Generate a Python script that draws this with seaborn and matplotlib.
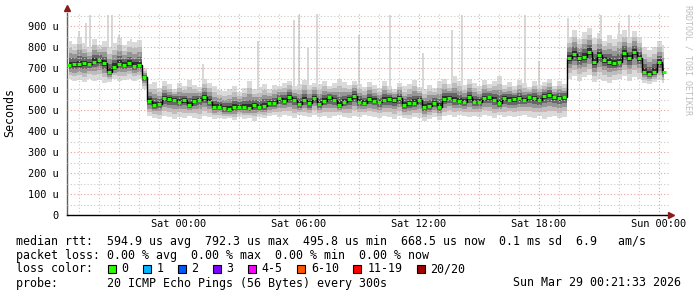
import numpy as np
import matplotlib
matplotlib.use("Agg")
import matplotlib.pyplot as plt
from matplotlib.patches import Rectangle
import seaborn as sns

# ---------------- data (hours relative to Sat 00:00, one sample per 15 min) -------------
t_start = -5.5
t_step = 0.25

median_us = [714, 717, 717, 722, 719, 730, 738, 722, 682, 706, 719, 714, 722, 711, 714,
             655,
             544, 524, 529, 555, 552, 550, 540, 548, 524, 544, 550, 560, 540, 516, 516,
             508, 505, 513, 516, 516, 508, 524, 513, 519, 532, 532, 556, 545, 560, 548,
             527, 548, 532, 556, 529, 545, 560, 548, 524, 540, 552, 567, 540, 535, 552,
             545, 540, 548, 551, 548, 556, 524, 532, 535, 548, 516, 519, 535, 516, 551,
             559, 548, 545, 540, 560, 540, 540, 556, 560, 548, 532, 556, 548, 551, 556,
             548, 560, 556, 548, 567, 571, 560, 556, 560,
             746, 767, 746, 754, 778, 730, 762, 738, 730, 722, 730, 770, 746, 778, 746,
             683, 671, 683, 727, 683]

smoke_hi_us = [830, 815, 850, 820, 800, 840, 810, 830, 800, 820, 845, 810, 830, 825, 835,
               700,
               625, 632, 605, 640, 622, 600, 630, 615, 642, 620, 608, 648, 628, 612, 595,
               590, 600, 615, 585, 605, 640, 598, 610, 625, 600, 620, 615, 630, 640, 612,
               625, 645, 618, 630, 622, 640, 615, 628, 650, 632, 618, 640, 625, 610, 635,
               620, 605, 640, 615, 600, 630, 612, 625, 645, 610, 598, 620, 605, 640, 650,
               625, 660, 640, 618, 650, 630, 612, 645, 625, 640, 660, 620, 635, 615, 645,
               628, 610, 640, 620, 635, 650, 615, 640, 625,
               850, 880, 840, 870, 890, 845, 865, 830, 855, 840, 860, 880, 850, 875, 850,
               800, 785, 800, 830, 810]

smoke_lo_us = [650, 640, 645, 635, 650, 640, 645, 630, 635, 650, 640, 645, 650, 640, 650,
               600,
               470, 462, 458, 470, 465, 455, 468, 460, 472, 462, 456, 470, 465, 458, 462,
               455, 460, 452, 465, 458, 462, 450, 468, 460, 470, 475, 465, 478, 470, 462,
               475, 470, 465, 478, 468, 472, 462, 470, 475, 465, 460, 472, 468, 475, 470,
               468, 462, 470, 465, 458, 472, 460, 455, 468, 462, 450, 458, 465, 452, 470,
               475, 468, 478, 470, 465, 472, 468, 475, 470, 462, 475, 468, 472, 465, 470,
               478, 468, 462, 470, 458, 465, 472, 460, 468,
               650, 660, 640, 655, 665, 635, 650, 640, 630, 645, 650, 660, 640, 655, 650,
               630, 625, 635, 645, 630]

spike_hours = [-5.0, -4.65, -4.45, -3.55, -3.35, -3.0, -2.4, -2.0, 1.2, 3.95, 5.75, 6.0,
               6.45, 6.9, 9.0, 10.55, 12.2, 13.65, 14.15, 17.3, 18.0, 19.45, 21.1, 22.0,
               22.5, 24.0]
spike_top_us = [876, 915, 954, 954, 954, 859, 840, 830, 719, 828, 930, 954,
                795, 955, 859, 954, 771, 882, 954, 954, 733, 940, 954, 915,
                954, 828]

xtick_hours = [0, 6, 12, 18, 24]
xtick_labels = ["Sat 00:00", "Sat 06:00", "Sat 12:00", "Sat 18:00", "Sun 00:00"]
ytick_values = [0, 100, 200, 300, 400, 500, 600, 700, 800, 900]
ytick_labels = ["0", "100 u", "200 u", "300 u", "400 u", "500 u", "600 u", "700 u",
                "800 u", "900 u"]

loss_labels = ["0", "1", "2", "3", "4-5", "6-10", "11-19", "20/20"]
loss_colors = ["#26ff00", "#00b8ff", "#0059ff", "#7e00ff", "#ff00ff", "#ff5500",
               "#ff0000", "#a10000"]

legend_row1 = "median rtt:  594.9 us avg  792.3 us max  495.8 us min  668.5 us now  0.1 ms sd  6.9   am/s"
legend_row2 = "packet loss: 0.00 % avg  0.00 % max  0.00 % min  0.00 % now"
legend_row3 = "loss color:"
legend_row4 = "probe:       20 ICMP Echo Pings (56 Bytes) every 300s"
legend_date = "Sun Mar 29 00:21:33 2026"

# ---------------- figure ----------------
sns.set_theme(style="white")
plt.rcParams["font.family"] = ["DejaVu Sans Mono", "DejaVu Sans"]

W, H = 697, 297
fig = plt.figure(figsize=(W / 100, H / 100), dpi=100)
fig.patch.set_facecolor("white")
ax = fig.add_axes([67 / W, (H - 215) / H, 603 / W, 202 / H])
ax.set_facecolor("white")

med = np.array(median_us, dtype=float)
hi = np.array(smoke_hi_us, dtype=float)
lo = np.array(smoke_lo_us, dtype=float)
t = t_start + t_step * np.arange(len(med))

# spikes (single-sample outliers)
sh = np.array(spike_hours)
base = np.interp(sh, t, med)
ax.bar(sh, np.array(spike_top_us) - base, bottom=base, width=0.14,
       color="#d8d8d8", linewidth=0, zorder=0.8)

# smoke layers from outer/light to inner/dark
fracs = [1.0, 0.72, 0.5, 0.3, 0.14]
greys = ["#dadada", "#bdbdbd", "#969696", "#666666", "#303030"]
for f, g in zip(fracs, greys):
    ax.fill_between(t, med - f * (med - lo), med + f * (hi - med), step="mid",
                    color=g, linewidth=0, zorder=1)

# median: black connector + green blocks
sns.lineplot(x=t, y=med, ax=ax, drawstyle="steps-mid", color="black", lw=1.0,
             zorder=3, legend=False)
ax.hlines(med, t - 0.09, t + 0.09, color=loss_colors[0], lw=2.2, zorder=4)

ax.set_xlim(-5.6, 24.55)
ax.set_ylim(0, 962)

# grid
ax.set_xticks(np.arange(-3, 25, 3))
ax.set_xticklabels([xtick_labels[xtick_hours.index(h)] if h in xtick_hours else ""
                    for h in range(-3, 25, 3)])
ax.set_xticks(np.arange(-5, 25, 1), minor=True)
ax.set_yticks(ytick_values)
ax.set_yticklabels(ytick_labels)
ax.set_yticks(np.arange(50, 962, 100), minor=True)
ax.set_axisbelow(False)
ax.grid(which="minor", color="#c8c8c8", linestyle=(0, (1, 2)), linewidth=0.8)
ax.grid(which="major", color="#e8a0a0", linestyle=(0, (1, 2)), linewidth=0.8)
ax.tick_params(axis="both", which="both", length=0)
ax.tick_params(axis="y", labelsize=7.4, pad=6, labelcolor="black")
ax.tick_params(axis="x", labelsize=7.4, pad=3, labelcolor="black")

for s in ["top", "right"]:
    ax.spines[s].set_visible(False)
ax.spines["left"].set_color("#606060")
ax.spines["bottom"].set_color("#000000")
ax.spines["left"].set_linewidth(1)
ax.spines["bottom"].set_linewidth(1)
ax.set_xlabel("")
ax.set_ylabel("")

# axis arrows
ax.plot([-5.6], [985], marker="^", color="#8b1a1a", ms=4.5, clip_on=False, zorder=6)
ax.plot([24.6], [0], marker=">", color="#8b1a1a", ms=4.5, clip_on=False, zorder=6)

# y label and watermark
fig.text(10 / W, 1 - 113 / H, "Seconds", rotation=90, ha="center", va="center",
         size=8.4, color="black")
fig.text(688 / W, 1 - 5 / H, "RRDTOOL / TOBI OETIKER", rotation=270, ha="center",
         va="top", size=6, color="#bdbdbd")

# legend text
fs = 8.4
cw = 0.602 * fs * 100 / 72  # monospace advance in px
x0 = 16
rows_y = [241, 255, 269, 283]
for txt, y in zip([legend_row1, legend_row2, legend_row3, legend_row4], rows_y):
    fig.text(x0 / W, 1 - y / H, txt, ha="left", va="center", size=fs, color="black")
fig.text(681 / W, 1 - rows_y[3] / H, legend_date, ha="right", va="center", size=fs,
         color="black")

col = 13
for lab, colr in zip(loss_labels, loss_colors):
    xs = x0 + col * cw + 0.3
    fig.add_artist(Rectangle((xs / W, 1 - (rows_y[2] + 4) / H), 8 / W, 8 / H,
                             transform=fig.transFigure, facecolor=colr,
                             edgecolor="black", linewidth=0.8))
    fig.text((x0 + (col + 2) * cw) / W, 1 - rows_y[2] / H, lab, ha="left",
             va="center", size=fs, color="black")
    col += 2 + len(lab) + 2

fig.savefig("out.png", dpi=100, facecolor="white")
